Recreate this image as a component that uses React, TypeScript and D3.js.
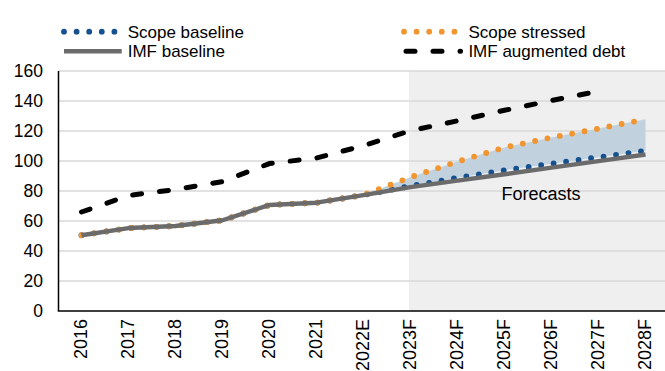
import React from "react";
import * as d3 from "d3";

const categories = ["2016", "2017", "2018", "2019", "2020", "2021", "2022E", "2023F", "2024F", "2025F", "2026F", "2027F", "2028F"];
const imfBaseline = [50.5, 55.3, 56.7, 60.5, 70.7, 72.2, 77.3, 82.6, 86.9, 91.2, 95.6, 99.9, 104.3];
const scopeBaseline = [50.5, 55.3, 56.7, 60.5, 70.7, 72.2, 77.3, 83.3, 88.8, 93.8, 98.2, 102.5, 106.9];
const scopeStressed = [50.5, 55.3, 56.7, 60.5, 70.7, 72.2, 77.3, 89.2, 99.6, 109, 115.7, 121.6, 127.8];
const imfAugmented: (number | null)[] = [66, 77, 81, 86.3, 98.3, 102, 110.2, 120.2, 126.8, 133.8, 140.3, 146.5, null];
const yTicks = [0, 20, 40, 60, 80, 100, 120, 140, 160];
const forecastStart = "2023F";
const bandStart = "2022E";
const forecastLabel = "Forecasts";
const legendItems = [
  { name: "Scope baseline", kind: "blue" },
  { name: "Scope stressed", kind: "orange" },
  { name: "IMF baseline", kind: "grey" },
  { name: "IMF augmented debt", kind: "dash" },
];

const W = 665;
const H = 371;
const FONT = "'Liberation Sans', Arial, Helvetica, sans-serif";
const BLUE = "#15508f";
const ORANGE = "#f0952f";
const GREY = "#6b6b6b";
const SHADE = "#c2d1de";
const FORECAST_BG = "#efefef";
const GRID = "#d9d9d9";

export default function App() {
  const x = d3.scaleBand<string>().domain(categories).range([58, 669]).padding(0);
  const cx = (c: string) => (x(c) as number) + x.bandwidth() / 2;
  const y = d3.scaleLinear().domain([0, 160]).range([311, 71]);
  const plotLeft = 58.5;
  const plotRight = W;

  const line = d3
    .line<number | null>()
    .defined((d) => d !== null)
    .x((_, i) => cx(categories[i]))
    .y((d) => y(d as number));

  const bandIdx = categories.indexOf(bandStart);
  const bandData = categories.map((c, i) => ({ c, lo: scopeBaseline[i], hi: scopeStressed[i] })).slice(bandIdx);
  const area = d3
    .area<{ c: string; lo: number; hi: number }>()
    .x((d) => cx(d.c))
    .y0((d) => y(d.lo))
    .y1((d) => y(d.hi));

  const fx = cx(forecastStart) - 1.5;

  const dotDash = "0 12.6";
  const longDash = "9 18";
  const dotW = 5.8;

  const legendPos = [
    { x0: 64, y: 31.7 },
    { x0: 404, y: 31.7 },
    { x0: 64, y: 51.2 },
    { x0: 404, y: 51.2 },
  ];
  const textX = [127.7, 468.4, 127.7, 468.4];

  return (
    <svg width={W} height={H} style={{ position: "absolute", left: 0, top: 0, background: "#fff" }} fontFamily={FONT}>
      {/* forecast background */}
      <rect x={fx} y={y(160)} width={plotRight - fx} height={y(0) - y(160)} fill={FORECAST_BG} />
      {/* grid */}
      {yTicks
        .filter((t) => t > 0)
        .map((t) => (
          <line key={t} x1={plotLeft} x2={plotRight} y1={y(t)} y2={y(t)} stroke={GRID} strokeWidth={1.4} />
        ))}
      {/* shaded band */}
      <path d={area(bandData) || ""} fill={SHADE} />
      {/* Scope baseline */}
      <path d={line(scopeBaseline) || ""} fill="none" stroke={BLUE} strokeWidth={dotW} strokeLinecap="round" strokeDasharray={dotDash} />
      {/* Scope stressed */}
      <path d={line(scopeStressed) || ""} fill="none" stroke={ORANGE} strokeWidth={dotW} strokeLinecap="round" strokeDasharray={dotDash} />
      {/* IMF baseline */}
      <path d={line(imfBaseline) || ""} fill="none" stroke={GREY} strokeWidth={4.4} strokeLinejoin="round" />
      {/* IMF augmented */}
      <path d={line(imfAugmented) || ""} fill="none" stroke="#000" strokeWidth={5} strokeLinecap="round" strokeDasharray={longDash} />

      {/* axes */}
      <line x1={plotLeft} x2={plotLeft} y1={y(160)} y2={y(0)} stroke="#000" strokeWidth={1.5} />
      <line x1={plotLeft - 0.75} x2={plotRight} y1={y(0)} y2={y(0)} stroke="#000" strokeWidth={1.5} />

      {yTicks.map((t) => (
        <text key={t} x={43} y={y(t)} dy="0.35em" textAnchor="end" fontSize={17.5} fill="#000">
          {t}
        </text>
      ))}
      {categories.map((c) => (
        <text
          key={c}
          transform={`translate(${cx(c) - 1},${y(0) + 8}) rotate(-90)`}
          dy="0.35em"
          textAnchor="end"
          fontSize={18}
          fill="#000"
        >
          {c}
        </text>
      ))}

      <text x={541} y={200} textAnchor="middle" fontSize={18} fill="#000">
        {forecastLabel}
      </text>

      {/* legend */}
      {legendItems.map((it, i) => {
        const p = legendPos[i];
        let sample;
        if (it.kind === "blue" || it.kind === "orange") {
          sample = (
            <line x1={p.x0} x2={p.x0 + 55} y1={p.y} y2={p.y} stroke={it.kind === "blue" ? BLUE : ORANGE} strokeWidth={dotW} strokeLinecap="round" strokeDasharray={dotDash} />
          );
        } else if (it.kind === "grey") {
          sample = <line x1={p.x0} x2={p.x0 + 57.7} y1={p.y} y2={p.y} stroke={GREY} strokeWidth={4.4} />;
        } else {
          sample = (
            <line x1={p.x0 + 2} x2={p.x0 + 56.5} y1={p.y} y2={p.y} stroke="#000" strokeWidth={5} strokeLinecap="round" strokeDasharray={longDash} />
          );
        }
        return (
          <g key={it.name}>
            {sample}
            <text x={textX[i]} y={p.y} dy="0.35em" fontSize={17} fill="#000">
              {it.name}
            </text>
          </g>
        );
      })}
    </svg>
  );
}
